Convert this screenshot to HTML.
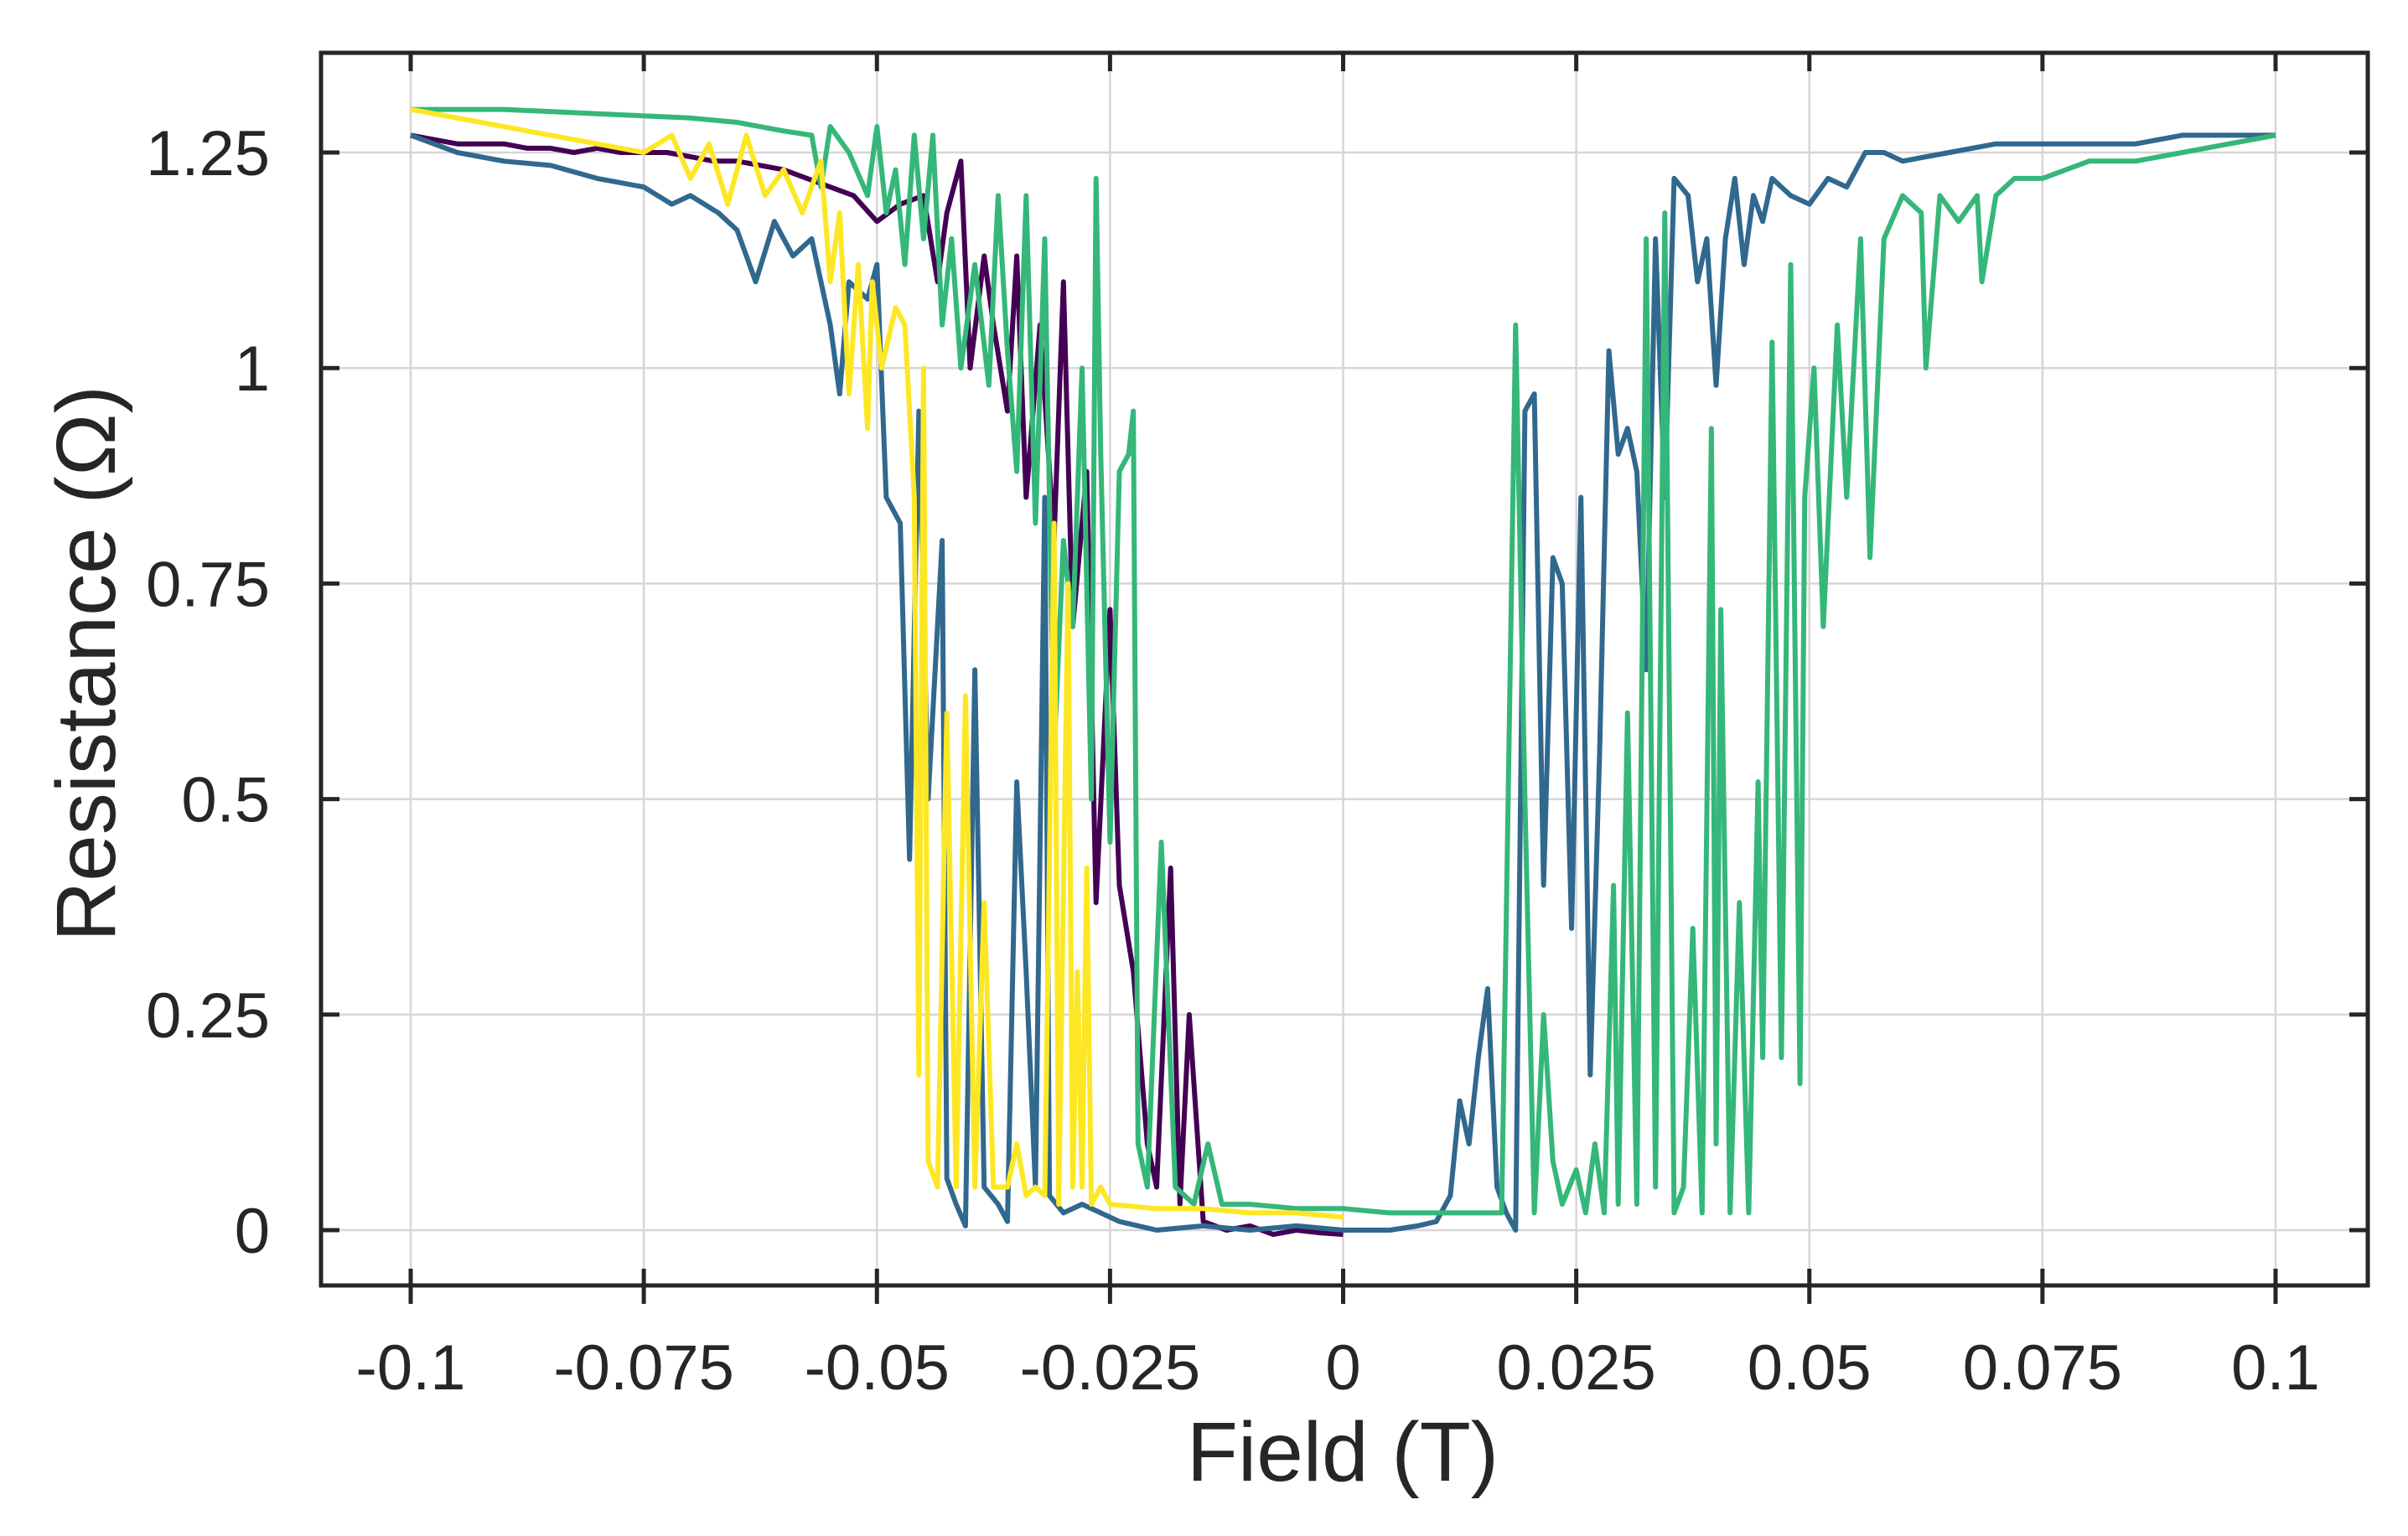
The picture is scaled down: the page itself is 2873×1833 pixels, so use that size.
<!DOCTYPE html>
<html><head><meta charset="utf-8"><style>
html,body{margin:0;padding:0;background:#fff}
svg{display:block}
text{font-family:"Liberation Sans",Arial,sans-serif;fill:#262626}
</style></head><body>
<svg id="chart" width="2873" height="1833" viewBox="0 0 2873 1833" xmlns="http://www.w3.org/2000/svg">
<g id="grid"></g>
<g id="series"></g>
<g id="axes"></g>
<text x="1602" y="1767" font-size="100" text-anchor="middle">Field (T)</text>
<text transform="translate(137,792) rotate(-90)" font-size="100" text-anchor="middle">Resistance (Ω)</text>
</svg>
<script>
const xTicks=[-0.1,-0.075,-0.05,-0.025,0,0.025,0.05,0.075,0.1];
const xTickLabels=["-0.1","-0.075","-0.05","-0.025","0","0.025","0.05","0.075","0.1"];
const yTicks=[0,0.25,0.5,0.75,1,1.25];
const yTickLabels=["0","0.25","0.5","0.75","1","1.25"];

const purpleX=[-0.1,-0.0975,-0.095,-0.0925,-0.09,-0.0875,-0.085,-0.0825,-0.08,-0.0775,-0.075,-0.0725,-0.07,-0.0675,-0.065,-0.0625,-0.06,-0.0575,-0.055,-0.0525,-0.05,-0.0475,-0.045,-0.0435,-0.0425,-0.041,-0.04,-0.0385,-0.0375,-0.036,-0.035,-0.034,-0.0325,-0.031,-0.03,-0.029,-0.0275,-0.0265,-0.025,-0.024,-0.0225,-0.021,-0.02,-0.0185,-0.0175,-0.0165,-0.015,-0.0125,-0.01,-0.0075,-0.005,-0.0025,0];
const purpleY=[1.27,1.265,1.26,1.26,1.26,1.255,1.255,1.25,1.255,1.25,1.25,1.25,1.245,1.24,1.24,1.235,1.23,1.22,1.21,1.2,1.17,1.19,1.2,1.1,1.18,1.24,1.0,1.13,1.05,0.95,1.13,0.85,1.05,0.8,1.1,0.7,0.88,0.38,0.72,0.4,0.3,0.1,0.05,0.42,0.03,0.25,0.01,0.0,0.005,-0.005,0.0,-0.003,-0.005];

const blueX=[-0.1,-0.095,-0.09,-0.085,-0.08,-0.075,-0.072,-0.07,-0.067,-0.065,-0.063,-0.061,-0.059,-0.057,-0.055,-0.054,-0.053,-0.051,-0.05,-0.049,-0.0475,-0.0465,-0.0455,-0.0445,-0.043,-0.0425,-0.0415,-0.0405,-0.0395,-0.0385,-0.037,-0.036,-0.035,-0.034,-0.033,-0.032,-0.0315,-0.03,-0.028,-0.026,-0.024,-0.02,-0.015,-0.01,-0.005,0,0.005,0.008,0.01,0.0115,0.0125,0.0135,0.0145,0.0155,0.0165,0.0175,0.0185,0.0195,0.0205,0.0215,0.0225,0.0235,0.0245,0.0255,0.0265,0.0275,0.0285,0.0295,0.0305,0.0315,0.0325,0.0335,0.0345,0.0355,0.037,0.038,0.039,0.04,0.041,0.042,0.043,0.044,0.045,0.046,0.047,0.048,0.05,0.052,0.054,0.056,0.058,0.06,0.065,0.07,0.075,0.08,0.085,0.09,0.095,0.1];
const blueY=[1.27,1.25,1.24,1.235,1.22,1.21,1.19,1.2,1.18,1.16,1.1,1.17,1.13,1.15,1.05,0.97,1.1,1.08,1.12,0.85,0.82,0.43,0.95,0.5,0.8,0.06,0.03,0.005,0.65,0.05,0.03,0.01,0.52,0.3,0.05,0.85,0.04,0.02,0.03,0.02,0.01,0.0,0.005,0.0,0.005,0.0,0.0,0.005,0.01,0.04,0.15,0.1,0.2,0.28,0.05,0.02,0.0,0.95,0.97,0.4,0.78,0.75,0.35,0.85,0.18,0.55,1.02,0.9,0.93,0.88,0.65,1.15,0.85,1.22,1.2,1.1,1.15,0.98,1.15,1.22,1.12,1.2,1.17,1.22,1.21,1.2,1.19,1.22,1.21,1.25,1.25,1.24,1.25,1.26,1.26,1.26,1.26,1.27,1.27,1.27];

const greenX=[-0.1,-0.09,-0.08,-0.07,-0.065,-0.06,-0.057,-0.056,-0.055,-0.053,-0.051,-0.05,-0.049,-0.048,-0.047,-0.046,-0.045,-0.044,-0.043,-0.042,-0.041,-0.0395,-0.038,-0.037,-0.036,-0.035,-0.034,-0.033,-0.032,-0.031,-0.03,-0.029,-0.028,-0.027,-0.0265,-0.026,-0.025,-0.024,-0.023,-0.0225,-0.022,-0.021,-0.0195,-0.018,-0.016,-0.0145,-0.013,-0.01,-0.005,0,0.005,0.01,0.015,0.017,0.0185,0.0195,0.0205,0.0215,0.0225,0.0235,0.025,0.026,0.027,0.028,0.029,0.0295,0.0305,0.0315,0.0325,0.0335,0.0345,0.0355,0.0365,0.0375,0.0385,0.0395,0.04,0.0405,0.0415,0.0425,0.0435,0.0445,0.045,0.046,0.047,0.048,0.049,0.0495,0.0505,0.0515,0.053,0.054,0.0555,0.0565,0.058,0.06,0.062,0.0625,0.064,0.066,0.068,0.0685,0.07,0.072,0.075,0.08,0.085,0.09,0.095,0.1];
const greenY=[1.3,1.3,1.295,1.29,1.285,1.275,1.27,1.21,1.28,1.25,1.2,1.28,1.18,1.23,1.12,1.27,1.15,1.27,1.05,1.15,1.0,1.12,0.98,1.2,1.02,0.88,1.2,0.82,1.15,0.55,0.8,0.7,1.0,0.5,1.22,0.9,0.45,0.88,0.9,0.95,0.1,0.05,0.45,0.05,0.03,0.1,0.03,0.03,0.025,0.025,0.02,0.02,0.02,0.02,1.05,0.5,0.02,0.25,0.08,0.03,0.07,0.02,0.1,0.02,0.4,0.03,0.6,0.03,1.15,0.05,1.18,0.02,0.05,0.35,0.02,0.93,0.1,0.72,0.02,0.38,0.02,0.52,0.2,1.03,0.2,1.12,0.17,0.85,1.0,0.7,1.05,0.85,1.15,0.78,1.15,1.2,1.18,1.0,1.2,1.17,1.2,1.1,1.2,1.22,1.22,1.24,1.24,1.25,1.26,1.27];

const yellowX=[-0.1,-0.095,-0.09,-0.085,-0.08,-0.075,-0.072,-0.07,-0.068,-0.066,-0.064,-0.062,-0.06,-0.058,-0.056,-0.055,-0.054,-0.053,-0.052,-0.051,-0.0505,-0.0495,-0.048,-0.047,-0.046,-0.0455,-0.045,-0.0445,-0.0435,-0.0425,-0.0415,-0.0405,-0.0395,-0.0385,-0.0375,-0.036,-0.035,-0.034,-0.033,-0.032,-0.031,-0.0305,-0.0295,-0.029,-0.0285,-0.028,-0.0275,-0.027,-0.026,-0.025,-0.02,-0.015,-0.01,-0.005,0];
const yellowY=[1.3,1.29,1.28,1.27,1.26,1.25,1.27,1.22,1.26,1.19,1.27,1.2,1.23,1.18,1.24,1.1,1.18,0.97,1.12,0.93,1.1,1.0,1.07,1.05,0.85,0.18,1.0,0.08,0.05,0.6,0.05,0.62,0.05,0.38,0.05,0.05,0.1,0.04,0.05,0.04,0.82,0.03,0.75,0.05,0.3,0.05,0.42,0.03,0.05,0.03,0.025,0.025,0.02,0.02,0.015];

const L=383,R=2825,T=63,B=1534;
function sx(v){return 490+(v+0.1)/0.2*(2715-490);}
function sy(v){return 1468+(v)/1.25*(182-1468);}
const NS="http://www.w3.org/2000/svg";
function mk(tag,attrs,parent){const e=document.createElementNS(NS,tag);for(const k in attrs)e.setAttribute(k,attrs[k]);parent.appendChild(e);return e;}
const grid=document.getElementById('grid'),axes=document.getElementById('axes'),series=document.getElementById('series');
xTicks.forEach((t,i)=>{
  const g=mk('line',{x1:sx(t),x2:sx(t),y1:T,y2:B,stroke:'#d6d6d6','stroke-width':2.5},grid);
  
  
  [[B-20,B+22],[T,T+22]].forEach(p=>{
    const tk=mk('line',{x1:sx(t),x2:sx(t),y1:p[0],y2:p[1],stroke:'#262626','stroke-width':5},axes);
    
    
  });
  const lb=mk('text',{x:sx(t),y:1658,'font-size':76,'text-anchor':'middle'},axes);
  lb.textContent=xTickLabels[i];
  
  
});
yTicks.forEach((t,i)=>{
  const g=mk('line',{x1:L,x2:R,y1:sy(t),y2:sy(t),stroke:'#d6d6d6','stroke-width':2.5},grid);
  
  
  [[L,L+22],[R-22,R]].forEach(p=>{
    const tk=mk('line',{x1:p[0],x2:p[1],y1:sy(t),y2:sy(t),stroke:'#262626','stroke-width':5},axes);
    
    
  });
  const lb=mk('text',{x:322,y:sy(t)+27,'font-size':76,'text-anchor':'end'},axes);
  lb.textContent=yTickLabels[i];
  
  
});
const frame=mk('rect',{x:L,y:T,width:R-L,height:B-T,fill:'none',stroke:'#262626','stroke-width':5},axes);


function drawLine(xs,ys,color,name){
  const d=xs.map((x,i)=>(i?'L':'M')+sx(x).toFixed(1)+','+sy(ys[i]).toFixed(1)).join(' ');
  const p=mk('path',{d:d,fill:'none',stroke:color,'stroke-width':6,'stroke-linejoin':'round'},series);
  
  
}
drawLine(purpleX,purpleY,'#440154','series-purple');
drawLine(blueX,blueY,'#31688e','series-blue');
drawLine(greenX,greenY,'#35b779','series-green');
drawLine(yellowX,yellowY,'#fde725','series-yellow');
</script>
</body></html>
